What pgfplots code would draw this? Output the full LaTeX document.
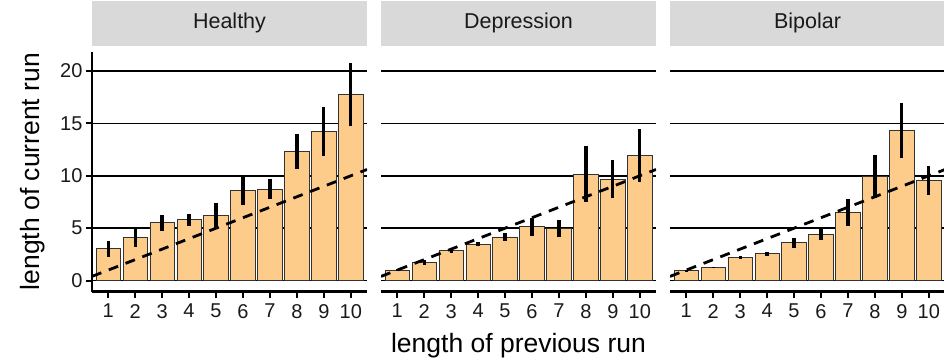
\documentclass[border=0pt]{standalone}
\usepackage{pgfplots}
\pgfplotsset{compat=1.18}
\usepackage{pgfplotstable}
\usepackage{fontspec}
\setmainfont{Liberation Sans}
\definecolor{barfill}{HTML}{FDCB8A}
\definecolor{stripgray}{HTML}{D9D9D9}
\definecolor{txt}{HTML}{1A1A1A}

\pgfplotstableread{
x y e
1 3.03 0.77
2 4.08 0.88
3 5.51 0.78
4 5.80 0.59
5 6.21 1.17
6 8.57 1.40
7 8.73 0.94
8 12.32 1.69
9 14.24 2.37
10 17.74 3.01
}\healthy

\pgfplotstableread{
x y e
1 1.02 0.06
2 1.72 0.20
3 2.87 0.27
4 3.47 0.20
5 4.17 0.40
6 5.13 0.85
7 4.97 0.85
8 10.16 2.68
9 9.68 1.80
10 11.91 2.52
}\depression

\pgfplotstableread{
x y e
1 0.96 0.04
2 1.27 0.06
3 2.23 0.13
4 2.55 0.16
5 3.63 0.48
6 4.39 0.51
7 6.50 1.26
8 9.97 2.05
9 14.30 2.60
10 9.59 1.39
}\bipolar

\pgfplotsset{
 panel/.style={
  scale only axis, width=275pt, height=239.8pt,
  xmin=0.4, xmax=10.6, ymin=-1.04, ymax=21.84,
  xtick={1,...,10}, ytick={0,5,10,15,20},
  ymajorgrids, grid style={black, line width=1.6pt},
  separate axis lines,
  axis x line*=bottom, axis y line*=left,
  x axis line style={-, line width=2.8pt},
  y axis line style={-, line width=2.4pt},
  tick align=outside, major tick length=6pt,
  tick style={black, line width=2pt},
  ticklabel style={font=\fontsize{20}{20}\selectfont, text=txt},
  xticklabel style={yshift=-3pt},
  /pgf/number format/assume math mode=true,
  title style={at={(0.5,1)}, anchor=south, fill=stripgray, minimum width=275pt,
    minimum height=44.7pt, inner sep=0pt, font=\fontsize{21.5}{21.5}\selectfont, text=txt},
  label style={font=\fontsize{26.5}{26.5}\selectfont, text=black},
  anchor=south west,
 },
 noy/.style={y axis line style={draw=none}, yticklabels={}, ytick style={draw=none}},
 bars/.style={ybar, bar width=0.9, bar shift=0pt, fill=barfill, draw=black!80, line width=0.8pt,
   error bars/.cd, y dir=both, y explicit, error mark=none,
   error bar style={line width=3.2pt, black}},
 diag/.style={black, line width=2.8pt, dash pattern=on 10pt off 8pt},
}

\begin{document}
\begin{tikzpicture}[x=1pt,y=1pt]
\useasboundingbox (0,0) rectangle (944,360);

\begin{axis}[panel, at={(92pt,68.5pt)}, title={Healthy},
  ylabel={length of current run},
  ylabel style={at={(axis description cs:-0.215,0.5)}, anchor=center}]
\addplot[bars] table[x=x,y=y,y error=e] {\healthy};
\addplot[diag] coordinates {(0.4,0.4) (10.6,10.6)};
\end{axis}

\begin{axis}[panel, noy, at={(381pt,68.5pt)}, title={Depression},
  xlabel={length of previous run},
  xlabel style={at={(axis description cs:0.5,-0.226)}, anchor=center}]
\addplot[bars] table[x=x,y=y,y error=e] {\depression};
\addplot[diag] coordinates {(0.4,0.4) (10.6,10.6)};
\end{axis}

\begin{axis}[panel, noy, at={(670pt,68.5pt)}, title={Bipolar}]
\addplot[bars] table[x=x,y=y,y error=e] {\bipolar};
\addplot[diag] coordinates {(0.4,0.4) (10.6,10.6)};
\end{axis}
\end{tikzpicture}
\end{document}
